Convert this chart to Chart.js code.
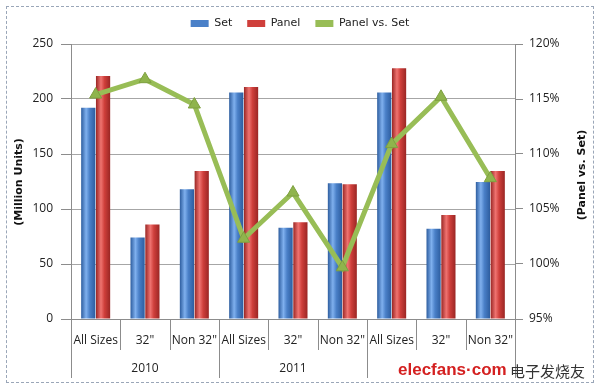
<!DOCTYPE html>
<html><head><meta charset="utf-8">
<script src="https://cdn.jsdelivr.net/npm/chart.js@4"></script>
<style>
html,body{margin:0;padding:0;background:#fff;}
#wrap{position:relative;width:600px;height:389px;}
#frame{position:absolute;left:6px;top:6px;width:588px;height:377px;border:1px dashed #9aa6b8;box-sizing:border-box;}
canvas{position:absolute;left:0;top:0;}
</style></head>
<body>
<div id="wrap"><div id="frame"></div><canvas id="c" width="600" height="389"></canvas></div>
<script>
const categories = ["All Sizes","32\"","Non 32\"","All Sizes","32\"","Non 32\"","All Sizes","32\"","Non 32\""];
const years = ["2010","2011",""];
const setValues = [192, 74, 118, 206, 83, 123.5, 206, 82, 124.5];
const panelValues = [221, 86, 134.5, 211, 88, 122.5, 228, 94.5, 134.5];
const ratioValues = [1.154, 1.168, 1.145, 1.023, 1.065, 0.997, 1.109, 1.152, 1.078];
const leftTicks = [0, 50, 100, 150, 200, 250];
const rightTicks = [0.95, 1.00, 1.05, 1.10, 1.15, 1.20];

const FONT = "'Open Sans', 'DejaVu Sans', sans-serif";

function barGradient(dark, mid, light, di){
  return function(ctx){
    const chart = ctx.chart;
    const meta = chart.getDatasetMeta(di);
    const el = meta.data[ctx.dataIndex];
    if(!el || el.x == null || !el.width) return mid;
    const x0 = el.x - el.width/2, x1 = el.x + el.width/2;
    const g = chart.ctx.createLinearGradient(x0,0,x1,0);
    g.addColorStop(0, dark);
    g.addColorStop(0.35, light);
    g.addColorStop(0.6, mid);
    g.addColorStop(1, dark);
    return g;
  };
}

const legendHeight = {
  id:'legendHeight',
  afterInit(chart){
    const lg = chart.legend;
    if(!lg) return;
    const orig = lg.fit.bind(lg);
    lg.fit = function(){ orig(); this.height = 41; };
  }
};

const decor = {
  id:'decor',
  afterDraw(chart){
    const c = chart.ctx, xs = chart.scales.x, area = chart.chartArea;
    const n = categories.length;
    const w = (area.right - area.left)/n;
    c.save();
    c.strokeStyle = '#8c8c8c';
    c.lineWidth = 1;
    for(let i=0;i<=n;i++){
      const x = Math.round(xs.getPixelForValue(i) - w/2) + 0.5;
      const isGroup = (i % 3 === 0);
      c.beginPath();
      c.moveTo(x, area.bottom);
      c.lineTo(x, isGroup ? 378 : 350);
      c.stroke();
    }
    c.fillStyle = '#222';
    c.font = "12px " + FONT;
    c.textAlign = 'center';
    c.textBaseline = 'middle';
    for(let g=0; g<3; g++){
      if(!years[g]) continue;
      const xm = xs.getPixelForValue(g*3+1);
      c.fillText(years[g], xm, 369);
    }
    // axis titles
    c.font = "bold 11px 'DejaVu Sans', sans-serif";
    c.fillStyle = '#111';
    c.save(); c.translate(19, 182); c.rotate(-Math.PI/2); c.fillText('(Million Units)',0,0); c.restore();
    c.save(); c.translate(582, 175); c.rotate(-Math.PI/2); c.fillText('(Panel vs. Set)',0,0); c.restore();
    // watermark
    c.textAlign='left';
    c.font = "bold 17px 'Liberation Sans', sans-serif";
    c.fillStyle = '#d42020';
    c.fillText('elecfans·com', 398, 370);
    c.font = "15px 'Noto Sans CJK SC', sans-serif";
    c.fillStyle = '#333';
    c.fillText('电子发烧友', 510, 371);
    c.restore();
  }
};

const chart = new Chart(document.getElementById('c'), {
  data: {
    labels: categories,
    datasets: [
      {type:'line', label:'Panel vs. Set', data: ratioValues, yAxisID:'y1',
       borderColor:'#98bd56', backgroundColor:'#98bd56', borderWidth:5,
       pointStyle:'triangle', pointRadius:7, pointBorderWidth:1, pointBackgroundColor:'#8fb44c', pointBorderColor:'#7ea040',
       tension:0, order:0},
      {type:'bar', label:'Set', data: setValues, yAxisID:'y',
       backgroundColor: barGradient('#2d5d9f','#4a80c8','#7fb0ee',1), borderWidth:0,
       categoryPercentage:0.6, barPercentage:0.96, order:1},
      {type:'bar', label:'Panel', data: panelValues, yAxisID:'y',
       backgroundColor: barGradient('#9a2624','#cf3f3b','#ef7370',2), borderWidth:0,
       categoryPercentage:0.6, barPercentage:0.96, order:1}
    ]
  },
  options: {
    responsive:false, animation:false,
    layout:{padding:{left:6, right:6, top:3, bottom:6}},
    plugins:{
      legend:{
        position:'top',
        labels:{
          font:{family:"'DejaVu Sans', sans-serif", size:11}, color:'#222',
          boxWidth:18, boxHeight:7, padding:15,
          generateLabels(chart){
            return [
              {text:'Set', fillStyle:'#4a80c8', strokeStyle:'#4a80c8', lineWidth:0, datasetIndex:1, fontColor:'#222'},
              {text:'Panel', fillStyle:'#cf3f3b', strokeStyle:'#cf3f3b', lineWidth:0, datasetIndex:2, fontColor:'#222'},
              {text:'Panel vs. Set', fillStyle:'#98bd56', strokeStyle:'#98bd56', lineWidth:0, datasetIndex:0, fontColor:'#222'}
            ];
          }
        }
      },
      tooltip:{enabled:false}
    },
    scales:{
      x:{
        grid:{display:false, drawTicks:false},
        border:{display:true, color:'#8c8c8c'},
        ticks:{font:{family:FONT, size:12}, color:'#222', padding:14, maxRotation:0, autoSkip:false},
        afterFit(s){ s.height = 64; }
      },
      y:{
        position:'left', min:0, max:250,
        afterBuildTicks(s){ s.ticks = leftTicks.map(v=>({value:v})); },
        grid:{color:'#a6a6a6', tickLength:10, drawTicks:true, tickColor:'#8c8c8c'},
        border:{display:true, color:'#8c8c8c'},
        ticks:{font:{family:FONT, size:12}, color:'#222', padding:8},
        afterFit(s){ s.width = 65; }
      },
      y1:{
        position:'right', min:0.95, max:1.20,
        afterBuildTicks(s){ s.ticks = rightTicks.map(v=>({value:v})); },
        grid:{drawOnChartArea:false, tickLength:8, tickColor:'#8c8c8c'},
        border:{display:true, color:'#8c8c8c'},
        ticks:{font:{family:FONT, size:12}, color:'#222', padding:6,
          callback:(v)=>Math.round(v*100)+'%'},
        afterFit(s){ s.width = 79; }
      }
    }
  },
  plugins:[legendHeight, decor]
});
chart.update();
</script>
</body></html>
